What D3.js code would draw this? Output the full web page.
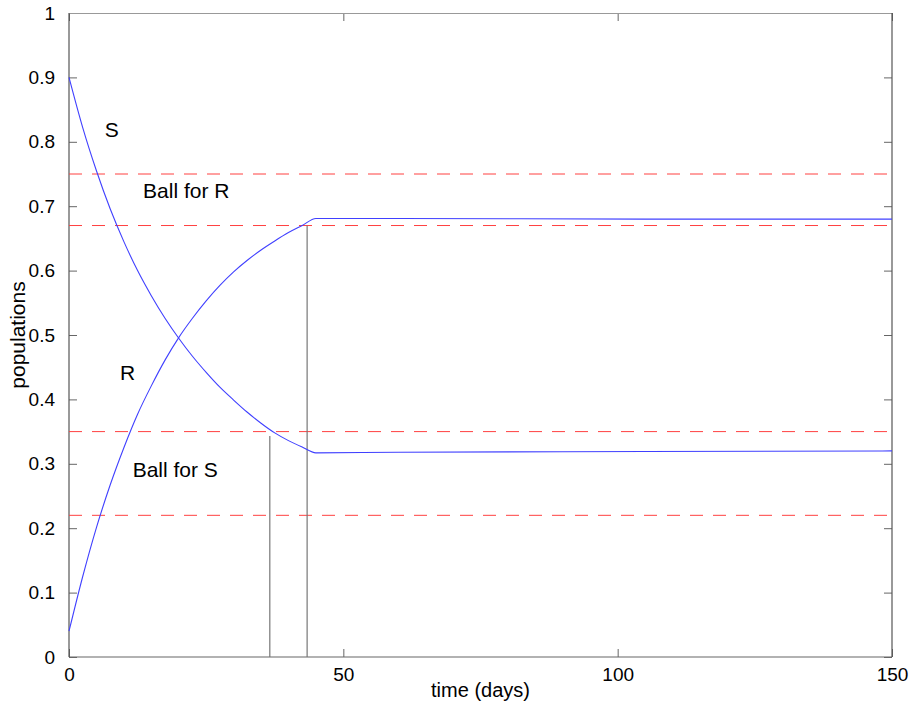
<!DOCTYPE html>
<html>
<head>
<meta charset="utf-8">
<script src="https://cdn.jsdelivr.net/npm/d3@7"></script>
<style>
  body { margin: 0; background: #fff; }
  text { font-family: "Liberation Sans", Arial, sans-serif; }
</style>
</head>
<body>
<div id="canvas"></div>
<script>
(function (d3) {
  // time samples (days) for the transient part, then the plateau
  var days = [0, 2.5, 5, 7.5, 10, 12.5, 15, 17.5, 20, 22.5, 25, 27.5, 30, 32.5, 35, 37.5, 40, 42.5, 45, 60, 105, 150];
  var sValues = [0.900, 0.822, 0.755, 0.696, 0.645, 0.600, 0.561, 0.526, 0.495, 0.467, 0.442, 0.419, 0.399, 0.380, 0.363, 0.348, 0.336, 0.326, 0.317, 0.318, 0.319, 0.320];
  var rValues = [0.040, 0.125, 0.201, 0.267, 0.325, 0.377, 0.421, 0.461, 0.496, 0.526, 0.553, 0.577, 0.598, 0.616, 0.632, 0.646, 0.659, 0.670, 0.681, 0.681, 0.680, 0.680];

  var ballLevels = [0.75, 0.67, 0.35, 0.22];           // dashed lines
  var markerTimes = [36.6, 43.4];                      // vertical lines
  var markerTops = [0.343, 0.67];
  var xTicks = [0, 50, 100, 150];
  var yTicks = [0, 0.1, 0.2, 0.3, 0.4, 0.5, 0.6, 0.7, 0.8, 0.9, 1];

  var labelText = ['S', 'R', 'Ball for R', 'Ball for S'];
  var labelT = [6.5, 9.3, 13.5, 11.6];
  var labelV = [0.808, 0.43, 0.712, 0.28];

  var width = 911, height = 712;
  var margin = { top: 13, right: 19, bottom: 55, left: 69 };
  var plotW = width - margin.left - margin.right;
  var plotH = height - margin.top - margin.bottom;

  var svg, plot, x, y;

  init();

  function init () {
    createSvg();
    createScales();
    createAxes();
    createDashes();
    createMarkers();
    createCurves();
    createLabels();
  }

  function createSvg () {
    svg = d3.select('#canvas')
      .append('svg')
      .attr('width', width)
      .attr('height', height);
    plot = svg.append('g')
      .attr('transform', 'translate(' + margin.left + ',' + margin.top + ')');
  }

  function createScales () {
    x = d3.scaleLinear().domain([0, 150]).range([0, plotW]);
    y = d3.scaleLinear().domain([0, 1]).range([plotH, 0]);
  }

  function styleAxis (g, showText) {
    g.select('.domain').remove();
    g.selectAll('.tick line').attr('stroke', '#666').attr('stroke-width', 1);
    g.selectAll('.tick text')
      .style('font-size', '19px')
      .attr('fill', '#000')
      .style('display', showText ? null : 'none');
  }

  function createAxes () {
    // inward ticks on all four sides
    plot.append('g')
      .attr('transform', 'translate(0,' + plotH + ')')
      .call(d3.axisBottom(x).tickValues(xTicks).tickSize(-8).tickPadding(11).tickFormat(d3.format('d')))
      .call(function (g) { styleAxis(g, true); });
    plot.append('g')
      .call(d3.axisTop(x).tickValues(xTicks).tickSize(-8))
      .call(function (g) { styleAxis(g, false); });
    plot.append('g')
      .call(d3.axisLeft(y).tickValues(yTicks).tickSize(-8).tickPadding(14).tickFormat(function (d) { return d3.format('')(+d.toFixed(1)); }))
      .call(function (g) { styleAxis(g, true); });
    plot.append('g')
      .attr('transform', 'translate(' + plotW + ',0)')
      .call(d3.axisRight(y).tickValues(yTicks).tickSize(-8))
      .call(function (g) { styleAxis(g, false); });

    // box
    plot.append('line').attr('x1', 0).attr('x2', plotW).attr('y1', 0.5).attr('y2', 0.5)
      .attr('stroke', '#999').attr('stroke-width', 1.2);
    plot.append('line').attr('x1', 0).attr('x2', plotW).attr('y1', plotH).attr('y2', plotH)
      .attr('stroke', '#666').attr('stroke-width', 1.2);
    plot.append('line').attr('x1', 0).attr('x2', 0).attr('y1', 0).attr('y2', plotH)
      .attr('stroke', '#555').attr('stroke-width', 1.2);
    plot.append('line').attr('x1', plotW).attr('x2', plotW).attr('y1', 0).attr('y2', plotH)
      .attr('stroke', '#555').attr('stroke-width', 1.2);

    svg.append('text')
      .attr('x', margin.left + plotW / 2)
      .attr('y', 697)
      .attr('text-anchor', 'middle')
      .style('font-size', '20px')
      .text('time (days)');
    svg.append('text')
      .attr('transform', 'translate(25,' + (margin.top + plotH / 2) + ') rotate(-90)')
      .attr('text-anchor', 'middle')
      .style('font-size', '21px')
      .text('populations');
  }

  function createDashes () {
    plot.append('g')
      .selectAll('line')
      .data(ballLevels)
      .enter()
      .append('line')
      .attr('x1', 0)
      .attr('x2', plotW)
      .attr('y1', function (d) { return y(d); })
      .attr('y2', function (d) { return y(d); })
      .attr('stroke', '#ff4040')
      .attr('stroke-width', 1)
      .attr('stroke-dasharray', '13,10');
  }

  function createMarkers () {
    plot.append('g')
      .selectAll('line')
      .data(markerTimes)
      .enter()
      .append('line')
      .attr('x1', function (d) { return x(d); })
      .attr('x2', function (d) { return x(d); })
      .attr('y1', y(0))
      .attr('y2', function (d, i) { return y(markerTops[i]); })
      .attr('stroke', '#777')
      .attr('stroke-width', 1.2);
  }

  function createCurves () {
    var line = d3.line()
      .x(function (d) { return x(d[0]); })
      .y(function (d) { return y(d[1]); })
      .curve(d3.curveMonotoneX);

    [sValues, rValues].forEach(function (vals) {
      plot.append('path')
        .datum(days.map(function (t, i) { return [t, vals[i]]; }))
        .attr('d', line)
        .attr('fill', 'none')
        .attr('stroke', '#4040ff')
        .attr('stroke-width', 1.1);
    });
  }

  function createLabels () {
    plot.append('g')
      .selectAll('text')
      .data(labelText)
      .enter()
      .append('text')
      .attr('x', function (d, i) { return x(labelT[i]); })
      .attr('y', function (d, i) { return y(labelV[i]); })
      .style('font-size', '21px')
      .text(function (d) { return d; });
  }
})(window.d3);
</script>
</body>
</html>
